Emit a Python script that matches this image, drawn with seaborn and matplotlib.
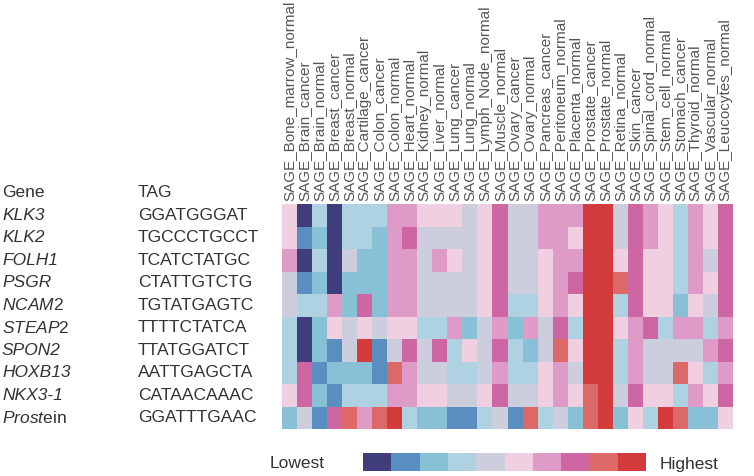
import numpy as np
import pandas as pd
import seaborn as sns
import matplotlib.pyplot as plt
from matplotlib.colors import ListedColormap
from matplotlib.transforms import blended_transform_factory

# data (levels 0 = lowest .. 9 = highest)
tissues = ['Bone_marrow_normal', 'Brain_cancer', 'Brain_normal', 'Breast_cancer',
           'Breast_normal', 'Cartilage_cancer', 'Colon_cancer', 'Colon_normal',
           'Heart_normal', 'Kidney_normal', 'Liver_normal', 'Lung_cancer',
           'Lung_normal', 'Lymph_Node_normal', 'Muscle_normal', 'Ovary_cancer',
           'Ovary_normal', 'Pancreas_cancer', 'Peritoneum_normal', 'Placenta_normal',
           'Prostate_cancer', 'Prostate_normal', 'Retina_normal', 'Skin_cancer',
           'Spinal_cord_normal', 'Stem_cell_normal', 'Stomach_cancer',
           'Thyroid_normal', 'Vascular_normal', 'Leucocytes_normal']
columns = ['SAGE_' + t for t in tissues]

# gene names: italic part + upright suffix, as printed
gene_italic = ['KLK3', 'KLK2', 'FOLH1', 'PSGR', 'NCAM', 'STEAP', 'SPON2',
               'HOXB13', 'NKX3-1', 'Prost']
gene_suffix = ['', '', '', '', '2', '2', '', '', '', 'ein']
tags = ['GGATGGGAT', 'TGCCCTGCCT', 'TCATCTATGC', 'CTATTGTCTG', 'TGTATGAGTC',
        'TTTTCTATCA', 'TTATGGATCT', 'AATTGAGCTA', 'CATAACAAAC', 'GGATTTGAAC']

klk3 = [5, 0, 3, 0, 3, 3, 3, 6, 6, 5, 5, 5, 4, 5, 7, 4, 4, 6, 6, 6, 9, 9, 4, 7, 6, 5, 3, 6, 5, 7]
klk2 = [5, 1, 2, 0, 3, 3, 2, 6, 7, 4, 4, 4, 4, 5, 7, 4, 4, 6, 6, 5, 9, 9, 4, 7, 6, 5, 3, 6, 5, 7]
folh1 = [6, 0, 3, 0, 4, 2, 2, 6, 6, 4, 6, 5, 4, 5, 7, 4, 4, 5, 6, 6, 9, 9, 5, 7, 5, 5, 3, 6, 4, 7]
psgr = [4, 1, 2, 0, 2, 2, 2, 6, 6, 4, 4, 4, 4, 5, 7, 4, 4, 5, 6, 7, 9, 9, 8, 7, 5, 5, 3, 6, 5, 7]
ncam2 = [4, 3, 3, 6, 2, 7, 2, 6, 6, 4, 4, 4, 4, 5, 7, 3, 3, 5, 6, 5, 9, 9, 3, 7, 5, 5, 2, 5, 4, 7]
steap2 = [3, 0, 2, 5, 4, 5, 4, 5, 5, 3, 3, 6, 2, 4, 6, 2, 6, 4, 7, 3, 9, 9, 5, 6, 7, 3, 6, 6, 3, 6]
spon2 = [3, 0, 2, 1, 4, 9, 1, 4, 7, 4, 7, 3, 5, 4, 7, 3, 2, 4, 8, 5, 9, 9, 3, 6, 4, 4, 4, 4, 6, 7]
hoxb13 = [3, 7, 1, 2, 2, 2, 1, 8, 6, 4, 4, 3, 3, 4, 6, 3, 3, 5, 6, 4, 9, 9, 3, 6, 4, 4, 8, 5, 3, 6]
nkx31 = [5, 7, 2, 1, 3, 3, 3, 6, 6, 5, 5, 4, 4, 5, 7, 4, 4, 5, 6, 5, 8, 9, 4, 7, 5, 5, 3, 6, 5, 7]
prostein = [2, 4, 1, 7, 8, 6, 8, 9, 3, 2, 2, 1, 1, 3, 4, 1, 8, 3, 4, 2, 8, 9, 2, 5, 3, 9, 8, 2, 2, 5]

levels = list(range(10))
palette = ['#3f3d7c', '#5a8ec0', '#88c0d5', '#afd2e2', '#cdcedd',
           '#f0cfe0', '#df9bc7', '#cf66a4', '#dc6868', '#d33a3b']

df = pd.DataFrame([klk3, klk2, folh1, psgr, ncam2, steap2, spon2, hoxb13, nkx31, prostein],
                  index=tags, columns=columns)

sns.set_style('white')
plt.rcParams['font.family'] = ['Liberation Sans', 'DejaVu Sans']
plt.rcParams['mathtext.fontset'] = 'custom'
plt.rcParams['mathtext.rm'] = 'Liberation Sans'
plt.rcParams['mathtext.it'] = 'Liberation Sans:italic'

cmap = ListedColormap(palette)
fig = plt.figure(figsize=(7.54, 4.76), dpi=100)
ax = fig.add_axes([282 / 754, 1 - 429 / 476, 451 / 754, 225 / 476])
sns.heatmap(df, ax=ax, cmap=cmap, vmin=-0.5, vmax=9.5, cbar=False,
            xticklabels=True, yticklabels=False)
ax.xaxis.tick_top()
ax.set_xticklabels(columns, rotation=90, fontsize=11, color='#555555')
ax.tick_params(axis='x', length=0, pad=2)
ax.set_xlabel('')
ax.set_ylabel('')

# row labels: gene and tag columns
tr = blended_transform_factory(fig.transFigure, ax.transData)
txt = dict(transform=tr, fontsize=12.5, color='#333333', va='center')
ax.text(2 / 754, -0.5, 'Gene', **txt)
ax.text(138 / 754, -0.5, 'TAG', **txt)
for i, (gi, gs, t) in enumerate(zip(gene_italic, gene_suffix, tags)):
    if gs:
        ax.text(2 / 754, i + 0.5, r'$\mathit{' + gi + '}$' + gs, **txt)
    else:
        ax.text(2 / 754, i + 0.5, gi, style='italic', **txt)
    ax.text(138 / 754, i + 0.5, t, **txt)

# legend bar
cax = fig.add_axes([363 / 754, 1 - 471 / 476, 283 / 754, 18 / 476])
sns.heatmap(np.array([levels]), ax=cax, cmap=cmap, vmin=-0.5, vmax=9.5, cbar=False,
            xticklabels=False, yticklabels=False)
fig.text(270 / 754, 1 - 464 / 476, 'Lowest', fontsize=12.5, color='#333333', va='center')
fig.text(660 / 754, 1 - 464 / 476, 'Highest', fontsize=12.5, color='#333333', va='center')

fig.savefig('out.png', dpi=100)
